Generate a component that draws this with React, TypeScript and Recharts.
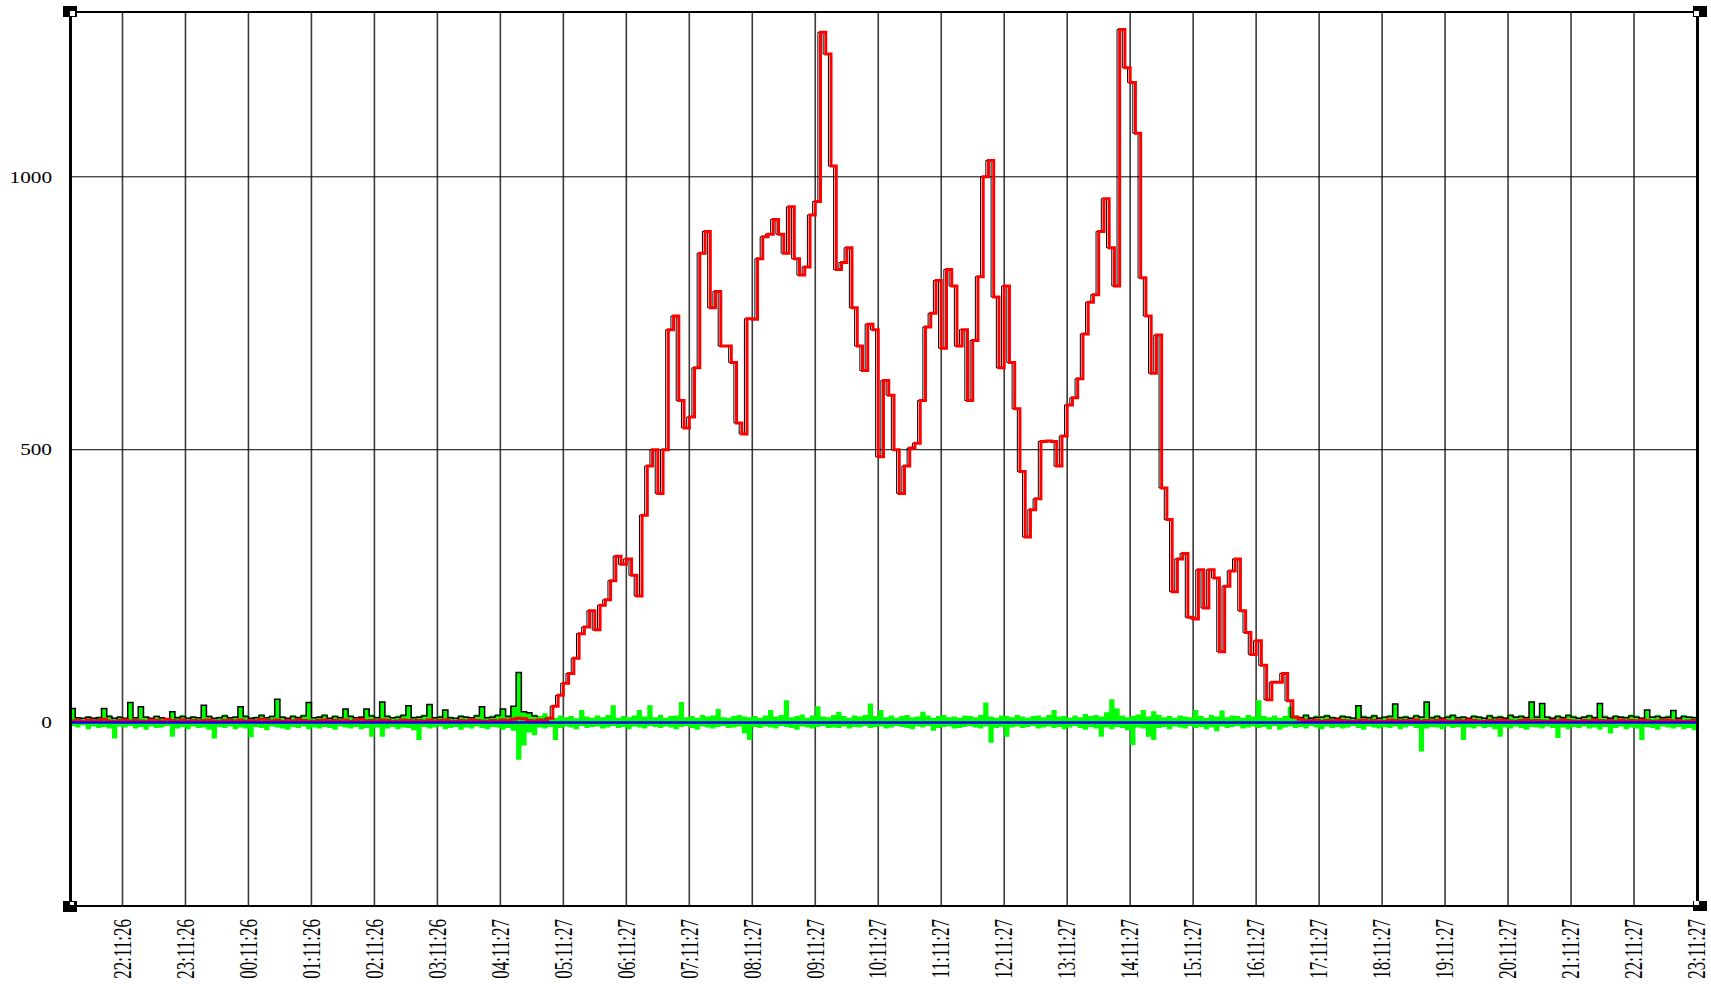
import React from 'react';
import { ComposedChart, Line, Area, XAxis, YAxis, CartesianGrid } from 'recharts';

// samples every 5 minutes, minutes counted from 22:11:26
const START_MIN = -50;
const STEP_MIN = 5;

const hourLabels = [
  '22:11:26', '23:11:26', '00:11:26', '01:11:26', '02:11:26', '03:11:26', '04:11:27', '05:11:27', '06:11:27',
  '07:11:27', '08:11:27', '09:11:27', '10:11:27', '11:11:27', '12:11:27', '13:11:27', '14:11:27', '15:11:27',
  '16:11:27', '17:11:27', '18:11:27', '19:11:27', '20:11:27', '21:11:27', '22:11:27', '23:11:27',
];
const valueTicks = [0, 500, 1000];

// blue series sits flat on zero the whole day
const BLUE_LEVEL = 0;

// red series, night before the rise
const redNight = [
  3, 4, 2, 5, 3, 4, 6, 3, 2, 4, 5, 3, 4, 3, 2, 5, 4, 3, 6, 4,
  3, 5, 2, 4, 3, 4, 5, 3, 2, 4, 4, 3, 5, 2, 4, 3, 6, 4, 3, 5,
  2, 4, 3, 5, 4, 3, 2, 4, 5, 3, 4, 3, 5, 2, 4, 6, 3, 4, 3, 5,
  4, 2, 3, 5, 4, 3, 4, 2, 5, 3, 4, 5, 3, 2, 4, 3, 5, 4, 3, 2,
  4, 3, 5, 4, 6, 8, 7, 4, 3, 5,
];
// red series, daytime (04:21 .. 16:56)
const redDay = [
  3, 8, 30, 50, 72, 90, 118, 163, 175, 205,
  170, 215, 225, 260, 305, 290, 300, 270, 232, 380,
  470, 500, 420, 500, 720, 745, 590, 540, 560, 650,
  860, 900, 760, 790, 690, 690, 660, 549, 529, 740,
  739, 850, 890, 895, 922, 895, 860, 945, 850, 820,
  835, 930, 955, 1265, 1225, 1020, 830, 843, 870, 760,
  690, 645, 730, 720, 487, 627, 600, 500, 420, 470,
  503, 512, 590, 725, 750, 810, 686, 830, 800, 690,
  720, 590, 700, 817, 1000, 1030, 780, 650, 800, 660,
  575, 460, 340, 390, 410, 515, 516, 515, 470, 525,
  582, 595, 630, 712, 770, 784, 900, 960, 870, 800,
  1270, 1200, 1173, 1080, 815, 745, 640, 710, 430, 372,
  240, 300, 310, 193, 190, 280, 210, 280, 265, 130,
  250, 278, 300, 205, 165, 125, 150, 105, 42, 74,
  74, 90, 40, 10,
];
// red series, evening after the fall
const redEvening = [
  6, 4, 3, 5, 2, 4, 3, 5, 4, 3, 2, 4, 5, 3, 4, 3, 2, 5, 4, 3,
  4, 3, 5, 2, 4, 3, 4, 5, 3, 2, 4, 3, 5, 4, 3, 2, 4, 3, 5, 4,
  3, 2, 4, 5, 3, 4, 3, 2, 4, 3, 5, 4, 3, 2, 4, 3, 5, 4, 3, 4,
  2, 5, 3, 4, 3, 5, 4, 2, 3, 4, 5, 3, 4, 2, 3, 4, 3,
];

// black series where it shows above the red one
const blackNight = [
  26, 9, 8, 10, 8, 9, 26, 11, 8, 10, 8, 37, 9, 29, 10, 8, 11, 9, 7, 20,
  9, 11, 8, 10, 9, 32, 11, 8, 9, 12, 9, 10, 29, 11, 8, 9, 13, 9, 11, 43,
  10, 8, 11, 9, 12, 37, 9, 10, 13, 8, 11, 9, 25, 11, 9, 10, 25, 12, 9, 38,
  11, 9, 10, 13, 31, 9, 10, 12, 33, 9, 10, 23, 9, 8, 11, 10, 9, 12, 29, 9,
  10, 13, 25, 11, 30, 92, 20, 18, 12, 10,
];
const blackEvening = [
  9, 13, 8, 10, 10, 12, 9, 8, 11, 10, 8, 31, 10, 9, 12, 8, 10, 11, 34, 9,
  10, 8, 12, 10, 38, 9, 11, 8, 10, 13, 9, 10, 8, 11, 10, 8, 12, 9, 10, 8,
  13, 10, 11, 9, 38, 10, 35, 10, 8, 11, 9, 13, 10, 8, 10, 12, 9, 35, 10, 8,
  11, 10, 9, 12, 10, 8, 23, 10, 11, 9, 10, 22, 8, 11, 10, 9, 25,
];

// green series: upper and lower envelope per sample
const greenUp = [
  26, 10, 8, 12, 9, 11, 26, 14, 9, 12, 8, 37, 10, 29, 12, 9, 13, 10, 8, 20,
  11, 14, 9, 12, 10, 32, 13, 9, 11, 15, 10, 12, 29, 14, 9, 11, 16, 10, 13, 43,
  12, 9, 14, 11, 15, 37, 10, 12, 16, 9, 13, 11, 25, 14, 10, 12, 25, 15, 11, 38,
  14, 10, 13, 16, 31, 11, 12, 15, 33, 10, 13, 23, 11, 9, 14, 12, 10, 15, 29, 11,
  13, 16, 25, 14, 30, 92, 20, 18, 15, 12, 17, 11, 9, 13, 10, 12, 8, 23, 11, 9,
  13, 10, 14, 32, 9, 12, 10, 13, 23, 11, 32, 10, 14, 9, 12, 13, 38, 10, 12, 9,
  14, 11, 13, 25, 10, 9, 12, 14, 11, 10, 12, 9, 13, 23, 11, 14, 41, 10, 12, 15,
  9, 13, 30, 11, 10, 14, 20, 12, 9, 13, 11, 14, 35, 12, 23, 10, 13, 9, 12, 14,
  10, 11, 20, 13, 9, 12, 14, 10, 11, 9, 13, 12, 10, 14, 37, 11, 9, 13, 12, 10,
  14, 11, 9, 12, 13, 10, 14, 23, 11, 12, 9, 13, 10, 16, 12, 14, 11, 19, 43, 26,
  13, 10, 12, 15, 23, 11, 21, 14, 10, 12, 9, 13, 11, 10, 23, 12, 9, 14, 11, 22,
  10, 13, 12, 9, 14, 11, 41, 12, 10, 13, 9, 12, 29, 14, 11, 16, 10, 13, 12, 15,
  11, 9, 14, 12, 10, 31, 13, 11, 15, 10, 12, 14, 34, 11, 13, 10, 15, 12, 38, 11,
  14, 10, 13, 16, 11, 12, 9, 14, 12, 10, 15, 11, 13, 10, 16, 12, 14, 11, 38, 13,
  35, 12, 10, 14, 11, 16, 13, 10, 12, 15, 11, 35, 13, 10, 14, 12, 11, 15, 13, 10,
  23, 12, 14, 11, 13, 22, 10, 14, 12, 11, 25,
];
const greenDown = [
  -6, -9, -5, -12, -7, -10, -8, -11, -29, -7, -9, -6, -11, -8, -13, -7, -10, -9, -6, -26,
  -11, -8, -12, -7, -10, -9, -13, -29, -8, -10, -7, -12, -9, -11, -27, -8, -10, -14, -7, -9,
  -11, -13, -8, -10, -7, -12, -9, -11, -8, -10, -13, -7, -9, -11, -8, -12, -10, -26, -9, -26,
  -11, -8, -12, -9, -10, -14, -32, -8, -11, -9, -7, -12, -10, -8, -13, -9, -11, -7, -10, -12,
  -8, -9, -13, -10, -15, -68, -42, -18, -23, -9, -11, -8, -32, -10, -7, -9, -12, -6, -10, -8,
  -7, -11, -9, -6, -10, -8, -12, -7, -9, -11, -6, -8, -10, -7, -9, -12, -8, -6, -10, -13,
  -7, -9, -11, -8, -6, -10, -9, -7, -20, -32, -8, -10, -7, -9, -11, -6, -8, -10, -13, -7,
  -9, -11, -8, -6, -10, -9, -10, -7, -11, -8, -9, -6, -10, -8, -7, -11, -9, -6, -8, -10,
  -12, -7, -9, -6, -15, -10, -8, -7, -11, -10, -8, -6, -9, -11, -7, -37, -10, -8, -26, -9,
  -7, -10, -8, -6, -11, -9, -7, -10, -8, -12, -9, -6, -10, -13, -8, -11, -26, -9, -12, -8,
  -10, -14, -41, -9, -11, -26, -32, -10, -8, -12, -7, -9, -11, -6, -10, -8, -12, -9, -16, -7,
  -10, -8, -6, -11, -9, -7, -10, -8, -12, -6, -13, -9, -7, -10, -8, -11, -6, -9, -12, -7,
  -10, -8, -11, -9, -6, -10, -13, -7, -9, -11, -8, -10, -7, -12, -9, -6, -10, -53, -11, -8,
  -9, -12, -7, -10, -8, -32, -9, -11, -7, -10, -8, -12, -26, -9, -11, -7, -10, -13, -8, -9,
  -11, -7, -10, -28, -9, -12, -8, -10, -7, -11, -9, -13, -8, -20, -10, -7, -12, -9, -11, -32,
  -8, -10, -13, -7, -9, -11, -8, -12, -10, -14, -68,
];

const red = [...redNight, ...redDay, ...redEvening];
const dayStart = redNight.length;
const dayEnd = redNight.length + redDay.length;

const rows = red.map((v, i) => ({
  t: START_MIN + i * STEP_MIN,
  inbound: v,
  shadow: i >= dayStart && i < dayEnd ? v : null,
  peak: i < dayStart ? blackNight[i] : i >= dayEnd ? blackEvening[i - dayEnd] : null,
  up: greenUp[i],
  down: greenDown[i],
  outbound: BLUE_LEVEL,
}));

const FONT = "'Liberation Serif', 'Times New Roman', serif";

function TimeTick({ x, y, payload }: any) {
  const label = hourLabels[Math.round(payload.value / 60)];
  return (
    <text
      transform={`translate(${x},${y}) rotate(-90) scale(1,1.5)`}
      textAnchor="end"
      dominantBaseline="central"
      fontSize={17}
      fontFamily={FONT}
      fill="#000"
    >
      {label}
    </text>
  );
}

function ValueTick({ x, y, payload }: any) {
  return (
    <text
      transform={`translate(${x},${y}) scale(1.25,1)`}
      textAnchor="end"
      dominantBaseline="central"
      fontSize={17}
      fontFamily={FONT}
      fill="#000"
    >
      {payload.value}
    </text>
  );
}

const box = (left: number, top: number, width: number, height: number, background: string): React.CSSProperties => ({
  position: 'absolute', left, top, width, height, background, pointerEvents: 'none',
});

export default function App() {
  return (
    <div style={{ position: 'absolute', left: 0, top: 0, width: 1711, height: 984, background: '#fff', overflow: 'hidden' }}>
      <ComposedChart width={1711} height={984} data={rows} margin={{ top: 12, right: 14, bottom: 0, left: 0 }}>
        <CartesianGrid horizontal={false} stroke="#3a3a3a" strokeWidth={1.6} />
        <CartesianGrid vertical={false} stroke="#000" strokeWidth={1} />
        <XAxis
          dataKey="t"
          type="number"
          domain={[-50, 1500]}
          ticks={hourLabels.map((_, k) => k * 60)}
          allowDataOverflow
          height={78}
          axisLine={false}
          tickLine={false}
          tickSize={0}
          tickMargin={13}
          interval={0}
          tick={<TimeTick />}
        />
        <YAxis
          type="number"
          domain={[-336, 1302]}
          ticks={valueTicks}
          allowDataOverflow
          width={70}
          axisLine={false}
          tickLine={false}
          tickSize={0}
          tickMargin={18}
          tick={<ValueTick />}
        />
        <Area dataKey="up" type="stepAfter" stroke="none" fill="#00ff00" fillOpacity={1} isAnimationActive={false} />
        <Area dataKey="down" type="stepAfter" stroke="none" fill="#00ff00" fillOpacity={1} isAnimationActive={false} />
        <Line dataKey="peak" type="stepAfter" stroke="#000" strokeWidth={1.5} dot={false} isAnimationActive={false} />
        <Line dataKey="shadow" type="step" stroke="#000" strokeWidth={1} dot={false} isAnimationActive={false} />
        <Line dataKey="inbound" type="stepAfter" stroke="#ff0000" strokeWidth={3} dot={false} isAnimationActive={false} />
        <Line dataKey="outbound" type="linear" stroke="#0000ff" strokeWidth={2.5} dot={false} isAnimationActive={false} />
      </ComposedChart>
      {/* plot frame */}
      <div style={box(68.5, 11, 3, 896, '#000')} />
      <div style={box(68.5, 11, 1630, 2, '#000')} />
      <div style={box(68.5, 905, 1630, 2, '#000')} />
      <div style={box(1695.5, 11, 3, 896, '#000')} />
      {/* corner marks */}
      <div style={box(63, 6, 14, 11, '#000')} />
      <div style={box(70, 11, 4.5, 4.5, '#fff')} />
      <div style={box(63, 901, 14, 11, '#000')} />
      <div style={box(69.5, 901.5, 4, 3.5, '#fff')} />
      <div style={box(1692.5, 6, 14, 11, '#000')} />
      <div style={box(1694, 11, 4.5, 4.5, '#fff')} />
      <div style={box(1692.5, 901, 14, 10, '#000')} />
      <div style={box(1694, 901, 4.5, 4, '#fff')} />
    </div>
  );
}
